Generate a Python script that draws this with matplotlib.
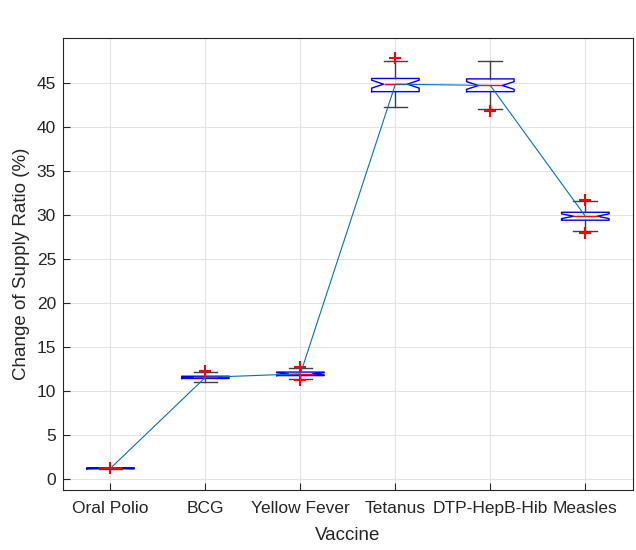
import matplotlib
matplotlib.use('Agg')
import matplotlib.pyplot as plt

plt.rcParams['font.family'] = ['Liberation Sans', 'DejaVu Sans']

vaccines = ['Oral Polio', 'BCG', 'Yellow Fever', 'Tetanus', 'DTP-HepB-Hib', 'Measles']
medians = [1.22, 11.55, 11.95, 44.85, 44.7, 29.85]
q1 = [1.17, 11.42, 11.75, 44.0, 44.0, 29.4]
q3 = [1.27, 11.68, 12.15, 45.5, 45.45, 30.3]
whislo = [1.15, 11.05, 11.4, 42.25, 42.0, 28.2]
whishi = [1.29, 12.15, 12.65, 47.5, 47.5, 31.55]
fliers = [[1.22], [12.25], [12.75, 11.2], [47.8], [41.8], [31.7, 28.0]]

stats = []
for i, name in enumerate(vaccines):
    iqr = q3[i] - q1[i]
    stats.append({
        'label': name,
        'med': medians[i],
        'q1': q1[i],
        'q3': q3[i],
        'whislo': whislo[i],
        'whishi': whishi[i],
        'fliers': fliers[i],
        'cilo': medians[i] - 0.3 * iqr,
        'cihi': medians[i] + 0.3 * iqr,
    })

fig, ax = plt.subplots(figsize=(6.36, 5.5), dpi=100)
fig.subplots_adjust(left=0.099, right=0.995, bottom=0.109, top=0.931)

pos = list(range(1, len(vaccines) + 1))
ax.bxp(stats, positions=pos, widths=0.5, capwidths=0.25, shownotches=True,
       boxprops=dict(color='#0000ff', linewidth=1.0),
       medianprops=dict(color='#ff0000', linewidth=1.0),
       whiskerprops=dict(color='#404040', linewidth=1.0),
       capprops=dict(color='#404040', linewidth=1.0),
       flierprops=dict(marker='+', markeredgecolor='#ff0000', markersize=9,
                       markeredgewidth=1.5, linestyle='none'))

ax.plot(pos, medians, color='#0072BD', linewidth=0.8, zorder=5)

ax.set_xlim(0.5, 6.5)
ax.set_ylim(-1.25, 50.1)
ax.set_yticks(range(0, 50, 5))
ax.set_xticks(pos)
ax.set_xticklabels(vaccines)
ax.grid(True, color='#e3e3e3', linewidth=0.8)
ax.set_axisbelow(True)

ax.tick_params(direction='in', length=5, labelsize=12.5, colors='#262626', width=0.8)
ax.tick_params(axis='x', pad=8)
ax.tick_params(axis='y', pad=5)
for s in ax.spines.values():
    s.set_color('#262626')
    s.set_linewidth(0.8)

ax.set_xlabel('Vaccine', fontsize=13.5, color='#262626', labelpad=8)
ax.set_ylabel('Change of Supply Ratio (%)', fontsize=13.5, color='#262626', labelpad=5)

fig.savefig('out.png', dpi=100)
